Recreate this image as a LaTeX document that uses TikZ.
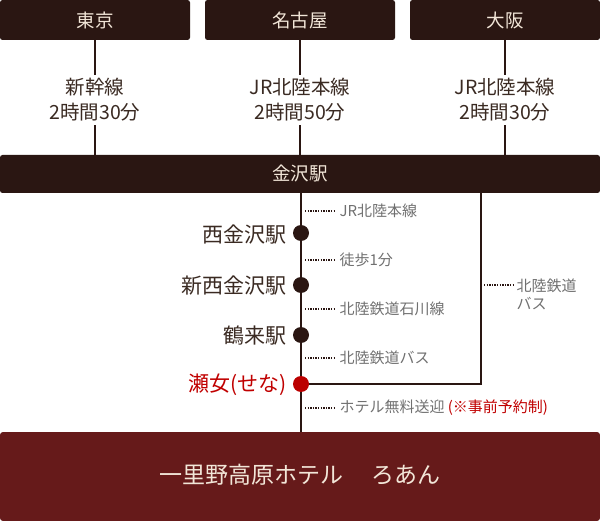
\documentclass[tikz,border=0pt]{standalone}
\usepackage{fontspec}
\setmainfont{Noto Sans CJK JP}
\definecolor{dbrown}{HTML}{2A1612}
\definecolor{wine}{HTML}{661A1A}
\definecolor{cream}{HTML}{F2E6D8}
\definecolor{txtbrown}{HTML}{3A2A22}
\definecolor{annot}{HTML}{707070}
\definecolor{redtxt}{HTML}{C00000}
\definecolor{reddot}{HTML}{BB0000}
\begin{document}
\begin{tikzpicture}[x=1pt,y=-1pt,
  topbox/.style={fill=dbrown,rounded corners=2.5pt},
  boxtext/.style={text=cream,font=\fontsize{18.5}{20}\selectfont},
  route/.style={text=txtbrown,align=center,font=\fontsize{19.5}{25}\selectfont,fill=white,inner sep=3pt},
  stn/.style={text=txtbrown,anchor=east,font=\fontsize{21}{24}\selectfont},
  dot/.style={circle,fill=dbrown,minimum size=16pt,inner sep=0pt},
  ann/.style={text=annot,anchor=west,font=\fontsize{15}{18}\selectfont,align=left},
  line/.style={draw=dbrown,line width=1.5pt},
  dotline/.style={draw=dbrown,line width=1.3pt,dash pattern=on 1.3pt off 1.3pt}]
\useasboundingbox (0,0) rectangle (600,521);
% top boxes
\path[topbox] (0,0) rectangle (190,40);
\path[topbox] (205,0) rectangle (395,40);
\path[topbox] (410,0) rectangle (600,40);
\node[boxtext] (tokyo) at (95,20) {東京};
\node[boxtext] (nagoya) at (300,20) {名古屋};
\node[boxtext] (osaka) at (505,20) {大阪};
% kanazawa bar
\path[topbox] (0,155) rectangle (600,193);
\node[boxtext] (kanazawa) at (300,174) {金沢駅};
% hotel box
\path[fill=wine,rounded corners=3pt] (0,432) rectangle (600,521);
\node[text=cream,font=\fontsize{23}{26}\selectfont] (hotel) at (300,475) {一里野高原ホテル\hspace{1.2em}ろあん};
% top connectors
\coordinate (t1) at (95,40); \coordinate (b1) at (95,155);
\coordinate (t2) at (300,40); \coordinate (b2) at (300,155);
\coordinate (t3) at (505,40); \coordinate (b3) at (505,155);
\draw[line] (t1) -- (b1);
\draw[line] (t2) -- (b2);
\draw[line] (t3) -- (b3);
\node[route] (r1) at (95,100) {新幹線\\2時間30分};
\node[route] (r2) at (300,100) {JR北陸本線\\2時間50分};
\node[route] (r3) at (505,100) {JR北陸本線\\2時間30分};
% main line
\coordinate (m0) at (301,193);
\coordinate (m1) at (301,432);
\draw[line] (m0) -- (m1);
\coordinate (rb0) at (481,193);
\coordinate (rb1) at (481,384);
\draw[line] (rb0) -- (rb1) -- (301,384);
% dots
\node[dot] (d1) at (301,233) {};
\node[dot] (d2) at (301,285) {};
\node[dot] (d3) at (301,335) {};
\node[dot,fill=reddot] (d4) at (301,384) {};
\node[stn] (s1) at (290,235) {西金沢駅};
\node[stn] (s2) at (290,286) {新西金沢駅};
\node[stn] (s3) at (290,336) {鶴来駅};
\node[stn,text=redtxt] (s4) at (290,385) {瀬女(せな)};
% annotations
\foreach \y/\t [count=\i] in {211/JR北陸本線,260/徒歩1分,309/北陸鉄道石川線,358/北陸鉄道バス}{
  \coordinate (a\i) at (305,\y);
  \node[ann] (n\i) at (336,\y) {\t};
  \draw[dotline] (a\i) -- (n\i.west);
}
\coordinate (a5) at (305,408);
\node[ann] (n5) at (336,408) {ホテル無料送迎 \textcolor{redtxt}{(※事前予約制)}};
\draw[dotline] (a5) -- (n5.west);
\coordinate (a6) at (484,285);
\node[ann] (n6) at (513,294) {北陸鉄道\\バス};
\draw[dotline] (a6) -- (513,285);
\end{tikzpicture}
\end{document}
